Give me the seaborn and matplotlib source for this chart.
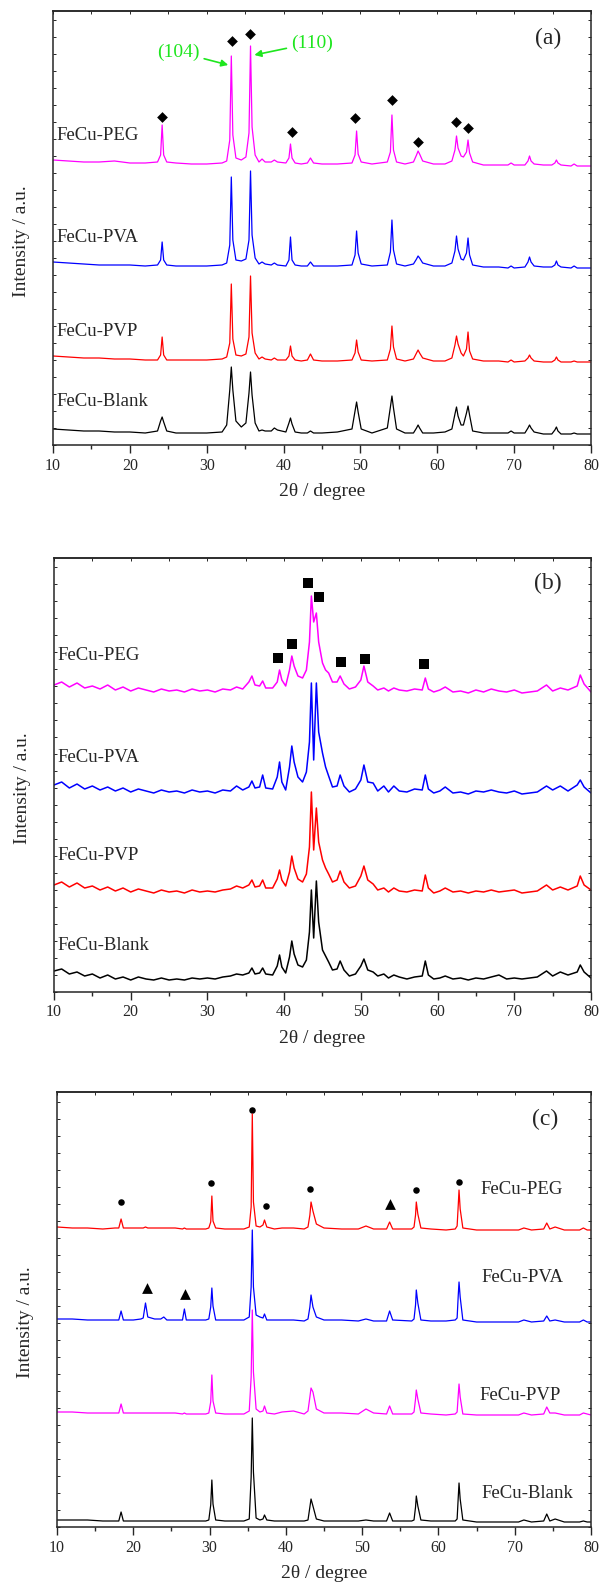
import numpy as np
import pandas as pd
import seaborn as sns
import matplotlib.pyplot as plt
from matplotlib.ticker import MultipleLocator, NullFormatter

sns.set_style('ticks')
plt.rcParams['font.family'] = ['Liberation Serif', 'DejaVu Serif']

# ---------------- panel (a) ----------------
A_X = [10, 12, 14, 16, 18, 20, 22,
       23.6, 24.0, 24.2, 24.4, 24.8,
       26, 28, 30, 32,
       32.6, 33.0, 33.2, 33.4, 33.8,
       34.5,
       35.1, 35.5, 35.7, 35.9, 36.3,
       36.8, 37.2, 37.6,
       38.4, 38.8, 39.2,
       40.3, 40.7, 40.9, 41.1, 41.5,
       42.3,
       43.1, 43.5, 43.9,
       45, 47,
       48.9, 49.3, 49.5, 49.7, 50.1,
       51.5,
       53.5, 53.9, 54.1, 54.3, 54.7,
       55.8,
       56.9, 57.3, 57.5, 57.7, 58.1,
       59.5, 61,
       61.9, 62.3, 62.5, 62.7, 63.1,
       63.4, 63.8, 64.0, 64.2, 64.6,
       66, 68,
       69.2, 69.6, 70.0,
       71.4, 71.8, 72.0, 72.2, 72.6,
       73.8,
       74.9, 75.3, 75.5, 75.7, 76.1,
       77.4, 77.8, 78.2,
       80]
A_PEG = [285, 284, 283, 283, 284, 282, 282,
         283, 290, 320, 290, 283,
         282, 281, 281, 282,
         284, 305, 389, 310, 287,
         285,
         288, 312, 399, 318, 290,
         283, 286, 283,
         283, 285, 283,
         282, 287, 301, 287, 282,
         281,
         282, 287, 282,
         281, 281,
         282, 290, 314, 291, 283,
         281,
         283, 293, 330, 295, 283,
         281,
         283, 290, 294, 291, 284,
         281, 281,
         284, 295, 309, 297, 289,
         288, 293, 305, 292, 283,
         280, 280,
         280, 282, 280,
         280, 284, 289, 284, 281,
         280,
         280, 282, 285, 282, 280,
         279, 281, 279,
         279]
A_PVA = [183, 182, 181, 180, 180, 180, 179,
         180, 185, 203, 185, 180,
         179, 179, 179, 180,
         182, 200, 268, 205, 185,
         184,
         186, 205, 274, 210, 187,
         181, 183, 181,
         180, 182, 180,
         179, 185, 208, 185, 180,
         179,
         179, 183, 179,
         179, 179,
         180, 190, 214, 192, 181,
         179,
         180, 193, 225, 195, 181,
         179,
         181, 186, 189, 187, 182,
         179, 179,
         182, 194, 209, 196, 186,
         185, 192, 207, 190, 180,
         178, 178,
         177, 179, 177,
         178, 183, 188, 183, 179,
         178,
         178, 180, 184, 180, 178,
         177, 179, 177,
         177]
A_PVP = [89, 88, 87, 87, 86, 86, 85,
         85, 90, 108, 90, 85,
         85, 85, 85, 86,
         88, 102, 161, 106, 90,
         89,
         91, 108, 169, 112, 92,
         86, 88, 86,
         85, 87, 85,
         85, 89, 99, 89, 85,
         84,
         85, 91, 85,
         84, 84,
         85, 92, 105, 93, 85,
         84,
         85, 96, 119, 98, 86,
         84,
         86, 92, 95, 92, 87,
         84, 84,
         87, 100, 109, 101, 92,
         89, 96, 113, 94, 86,
         84, 84,
         83, 85, 83,
         84, 87, 90, 87, 84,
         83,
         83, 85, 88, 85, 83,
         83, 84, 83,
         83]
A_BLANK = [16, 15, 14, 14, 13, 13, 12,
           14, 24, 28, 23, 14,
           12, 12, 12, 13,
           20, 55, 78, 55, 24,
           18,
           22, 52, 73, 50, 22,
           14, 15, 14,
           14, 17, 15,
           13, 22, 27, 21, 13,
           12,
           12, 14, 12,
           12, 13,
           16, 34, 43, 33, 16,
           12,
           17, 38, 49, 37, 16,
           12,
           12, 17, 20, 17, 12,
           12, 13,
           16, 31, 38, 29, 20,
           20, 32, 39, 30, 14,
           12, 12,
           12, 14, 12,
           12, 17, 20, 17, 13,
           11,
           11, 15, 18, 14, 11,
           11, 12, 11,
           11]
A_DIAMOND_X = [24.2, 33.25, 35.65, 41.05, 49.35, 54.13, 57.55, 62.42, 63.97]
A_DIAMOND_Y = [328, 404, 411, 313, 327, 345, 303, 323, 317]

# ---------------- panel (b) ----------------
B_X = [10, 11, 12, 13, 14, 15, 16, 17, 18, 19, 20, 21, 22, 23, 24, 25, 26, 27,
       28, 29, 30, 31, 32, 33,
       33.8, 34.6,
       35.4, 35.8, 36.2,
       36.8, 37.2, 37.6,
       38.5, 39.1, 39.4, 39.7, 40.2,
       40.7, 41.0, 41.3, 41.8, 42.4,
       42.9, 43.3, 43.55, 43.85, 44.2, 44.5,
       45.0, 45.4, 45.8, 46.3,
       46.9, 47.3, 47.8, 48.5,
       49.3, 50.0, 50.4, 50.9,
       51.6, 52.2, 53.0, 53.6, 54.3, 55, 56, 57,
       58.0, 58.4, 58.8,
       59.5, 60.3, 61.0, 62, 63, 64, 65, 66, 67, 68, 69, 70, 71, 72, 73,
       74.2, 75, 76, 77, 78.2, 78.6, 79.1, 80]
B_PEG = [307, 310, 305, 309, 304, 306, 303, 307, 302, 305, 301, 304, 302, 300,
         303, 301, 302, 300, 303, 301, 302, 300, 303, 302,
         305, 303,
         310, 316, 307,
         306, 311, 304,
         304, 310, 322, 312, 306,
         322, 336, 326, 316, 314,
         322, 350, 396, 370, 379, 350,
         329, 322, 319, 310,
         310, 316, 308, 303,
         305, 312, 326, 310,
         306, 302, 304, 301, 304, 302, 301, 303,
         302, 314, 303,
         300, 302, 305, 300, 301, 299, 302, 300, 303, 301, 300, 302, 299, 300, 301,
         307, 301, 304, 302, 306, 317, 308, 300]
B_PVA = [207, 210, 204, 208, 203, 206, 202, 205, 201, 204, 200, 203, 201, 199,
         202, 200, 201, 199, 202, 200, 201, 199, 202, 201,
         206, 202,
         205, 211, 204,
         205, 217, 204,
         203, 215, 230, 210, 202,
         225, 246, 230, 215, 210,
         220, 250, 309, 232, 309, 260,
         239, 225, 216, 205,
         206, 217, 206, 200,
         203, 212, 227, 210,
         209, 201, 206, 200, 206, 201, 200, 203,
         202, 217, 203,
         199, 201, 205, 199, 200, 198, 201, 200, 202, 200, 199, 201, 198, 199, 200,
         206, 202, 206, 201, 207, 212, 205, 199]
B_PVP = [107, 110, 105, 109, 104, 106, 102, 105, 101, 104, 100, 103, 101, 99,
         102, 100, 101, 99, 102, 100, 101, 100, 102, 103,
         106, 104,
         107, 112, 105,
         106, 112, 104,
         104, 113, 122, 112, 106,
         120, 136, 124, 113, 110,
         118, 145, 200, 142, 184, 150,
         132, 124, 118, 110,
         112, 121, 110, 104,
         106, 116, 126, 112,
         108, 102, 104, 100, 104, 101, 100, 102,
         101, 117, 104,
         99, 101, 104, 100, 101, 99, 101, 100, 102, 100, 101, 102, 99, 100, 101,
         107, 102, 105, 102, 106, 116, 107, 102]
B_BLANK = [21, 23, 18, 20, 16, 18, 14, 17, 13, 15, 12, 15, 13, 12,
           14, 12, 13, 12, 14, 13, 14, 13, 15, 16,
           18, 17,
           19, 24, 18,
           19, 24, 18,
           17, 26, 37, 25, 19,
           35, 51, 38, 27, 25,
           32, 60, 102, 54, 111, 70,
           42, 36, 30, 22,
           23, 31, 22, 16,
           18, 26, 33, 22,
           20, 16, 18, 14, 17, 15, 13, 15,
           16, 31, 17,
           13, 14, 16, 13, 14, 12, 14, 13, 15, 17, 13, 14, 13, 14, 15,
           21, 16, 20, 17, 20, 27, 20, 14]
B_SQUARE_X = [39.2, 40.97, 43.16, 44.6, 47.45, 50.5, 58.2]
B_SQUARE_Y = [334, 348, 409, 395, 330, 333, 328]

# ---------------- panel (c) ----------------
C_X = [10, 12, 14, 16, 17.6,
       18.1, 18.4, 18.7,
       20, 21.0,
       21.3, 21.6, 21.9,
       22.8,
       23.6, 24.0, 24.4,
       25.5,
       26.45, 26.7, 26.95,
       28, 29.5,
       29.9, 30.15, 30.3, 30.45, 30.8,
       32, 34.5,
       35.2, 35.45, 35.6, 35.75, 36.1,
       36.6, 37.0, 37.2, 37.5,
       38.5, 39.5, 41.0, 42.4,
       42.9, 43.15, 43.3, 43.55, 44.0,
       45, 47.3, 49.5, 50.5, 51.5, 53.2,
       53.6, 54.0,
       56.5,
       56.8, 57.0, 57.1, 57.3, 57.7,
       59, 61, 62.2,
       62.45, 62.6, 62.7, 62.85, 63.2,
       65, 68, 70.5,
       71.2, 72.2,
       73.8, 74.2, 74.6,
       75.3, 76.5,
       78.5, 79.0, 79.5, 80]
C_PEG = [300, 299, 299, 298, 299,
         299, 308, 299,
         299, 299,
         299, 300, 299,
         299,
         299, 299, 299,
         299,
         298, 299, 298,
         298, 298,
         299, 305, 331, 306, 299,
         298, 298,
         300, 320, 413, 325, 301,
         300, 302, 307, 300,
         298, 299, 299, 298,
         300, 312, 325, 316, 303,
         299, 298, 298, 301, 298, 298,
         305, 298,
         298,
         300, 312, 325, 313, 299,
         298, 297, 298,
         301, 322, 337, 318, 299,
         297, 297, 297,
         299, 297,
         298, 304, 298,
         300, 297,
         297, 299, 297, 297]
C_PVA = [208, 208, 207, 207, 207,
         207, 216, 207,
         207, 208,
         209, 224, 210,
         208,
         208, 210, 207,
         207,
         207, 218, 207,
         207, 207,
         208, 220, 239, 221, 207,
         207, 207,
         210, 240, 297, 240, 212,
         210, 209, 213, 207,
         207, 207, 207, 206,
         208, 220, 232, 220, 210,
         207, 207, 206, 208, 206, 206,
         216, 207,
         206,
         208, 222, 237, 224, 207,
         206, 206, 207,
         209, 232, 245, 230, 207,
         205, 205, 205,
         207, 205,
         206, 211, 206,
         207, 205,
         205, 207, 205, 205]
C_PVP = [115, 115, 114, 114, 114,
         114, 123, 114,
         114, 114,
         114, 114, 114,
         114,
         114, 114, 114,
         114,
         113, 114, 113,
         113, 113,
         114, 125, 152, 126, 114,
         113, 113,
         116, 150, 217, 155, 118,
         115, 116, 121, 114,
         113, 115, 116, 113,
         116, 130, 139, 135, 118,
         114, 114, 113, 118, 114, 113,
         121, 113,
         113,
         115, 128, 137, 128, 114,
         113, 112, 113,
         115, 132, 143, 130, 113,
         112, 112, 112,
         114, 112,
         113, 120, 114,
         114, 112,
         112, 114, 113, 112]
C_BLANK = [7, 7, 7, 6, 6,
           6, 15, 6,
           6, 6,
           6, 6, 6,
           6,
           6, 6, 6,
           6,
           6, 6, 6,
           6, 6,
           7, 22, 47, 23, 7,
           6, 6,
           8, 50, 109, 55, 9,
           7, 8, 12, 7,
           6, 6, 6, 6,
           7, 20, 28, 21, 8,
           6, 6, 6, 7, 6, 6,
           14, 6,
           6,
           7, 20, 31, 21, 7,
           6, 6, 6,
           8, 30, 44, 28, 7,
           5, 5, 5,
           7, 5,
           6, 13, 6,
           8, 5,
           5, 6, 5, 5]
C_CIRCLE_X = [18.45, 30.25, 35.6, 37.4, 43.2, 57.1, 62.7]
C_CIRCLE_Y = [325, 344, 417, 321, 338, 337, 345]
C_TRI_X = [21.85, 26.8, 53.6]
C_TRI_Y = [239, 233, 323]

SAMPLES = ['FeCu-PEG', 'FeCu-PVA', 'FeCu-PVP', 'FeCu-Blank']
MAGENTA, BLUE, RED, BLACK = '#FF00FF', '#0000FF', '#FF0000', '#000000'
GREEN = '#1EE61E'

W, H = 599, 1584
fig = plt.figure(figsize=(W / 100, H / 100), dpi=100)


def make_axes(left, right, top, bottom):
    ax = fig.add_axes([left / W, 1 - bottom / H, (right - left) / W, (bottom - top) / H])
    ax.set_xlim(10, 80)
    ax.set_ylim(0, bottom - top)
    ax.xaxis.set_major_locator(MultipleLocator(10))
    ax.xaxis.set_minor_locator(MultipleLocator(5))
    ax.yaxis.set_major_locator(MultipleLocator(17))
    ax.yaxis.set_major_formatter(NullFormatter())
    ax.tick_params(axis='x', which='major', direction='out', length=6, width=1,
                   labelsize=11.5, pad=3)
    ax.tick_params(axis='x', which='minor', direction='out', length=3, width=1)
    ax.tick_params(axis='y', which='major', direction='in', length=2.5, width=0.7,
                   left=True, right=True)
    top_ax = ax.secondary_xaxis('top')
    top_ax.xaxis.set_major_locator(MultipleLocator(5))
    top_ax.tick_params(direction='in', length=2, width=0.7, labeltop=False)
    for sp in ax.spines.values():
        sp.set_linewidth(1.1)
        sp.set_visible(True)
    top_ax.spines['top'].set_linewidth(1.1)
    return ax


def draw_traces(ax, x, series, colors, lw=0.9):
    for y, c in zip(series, colors):
        df = pd.DataFrame({'x': x, 'y': y})
        sns.lineplot(data=df, x='x', y='y', color=c, lw=lw, ax=ax,
                     estimator=None, sort=False)
    ax.set_xlabel('2θ / degree', fontsize=14)
    ax.set_ylabel('Intensity / a.u.', fontsize=14)


# panel (a)
ax_a = make_axes(53, 591, 11, 445)
draw_traces(ax_a, A_X, [A_PEG, A_PVA, A_PVP, A_BLANK], [MAGENTA, BLUE, RED, BLACK])
sns.scatterplot(x=A_DIAMOND_X, y=A_DIAMOND_Y, marker='D', s=30, color='black',
                edgecolor='black', linewidth=0, ax=ax_a)
for name, yy in zip(SAMPLES, [309, 207, 113, 44]):
    ax_a.text(10.45, yy, name, fontsize=13.5, ha='left', va='center')
ax_a.text(74.4, 407, '(a)', fontsize=17, ha='center', va='center')
ax_a.annotate('(104)', xy=(32.8, 380), xytext=(26.3, 393), fontsize=14, color=GREEN,
              ha='center', va='center',
              arrowprops=dict(arrowstyle='-|>', color=GREEN, lw=1.2,
                              shrinkA=1, shrinkB=0, mutation_scale=10))
ax_a.annotate('(110)', xy=(36.2, 390), xytext=(43.7, 402), fontsize=14, color=GREEN,
              ha='center', va='center',
              arrowprops=dict(arrowstyle='-|>', color=GREEN, lw=1.2,
                              shrinkA=1, shrinkB=0, mutation_scale=10))

# panel (b)
ax_b = make_axes(54, 591, 558, 992)
draw_traces(ax_b, B_X, [B_PEG, B_PVA, B_PVP, B_BLANK], [MAGENTA, BLUE, RED, BLACK],
            lw=1.1)
sns.scatterplot(x=B_SQUARE_X, y=B_SQUARE_Y, marker='s', s=55, color='black',
                edgecolor='black', linewidth=0, ax=ax_b)
for name, yy in zip(SAMPLES, [337, 235, 137, 46]):
    ax_b.text(10.5, yy, name, fontsize=13.5, ha='left', va='center')
ax_b.text(74.4, 409, '(b)', fontsize=17, ha='center', va='center')

# panel (c)
ax_c = make_axes(57, 591, 1092, 1527)
draw_traces(ax_c, C_X, [C_PEG, C_PVA, C_PVP, C_BLANK], [RED, BLUE, MAGENTA, BLACK])
sns.scatterplot(x=C_CIRCLE_X, y=C_CIRCLE_Y, marker='o', s=22, color='black',
                edgecolor='black', linewidth=0, ax=ax_c)
sns.scatterplot(x=C_TRI_X, y=C_TRI_Y, marker='^', s=60, color='black',
                edgecolor='black', linewidth=0, ax=ax_c)
for name, xx, yy in zip(SAMPLES, [65.5, 65.7, 65.35, 65.7], [337, 249, 132, 34]):
    ax_c.text(xx, yy, name, fontsize=13.5, ha='left', va='center')
ax_c.text(74.0, 408, '(c)', fontsize=17, ha='center', va='center')

for ax, (l, r, t, b) in [(ax_a, (53, 591, 11, 445)), (ax_b, (54, 591, 558, 992)),
                         (ax_c, (57, 591, 1092, 1527))]:
    ax.xaxis.set_label_coords(0.5, -38 / (b - t))
    ax.yaxis.set_label_coords(-23 / (r - l), 0.47)

fig.savefig('out.png', dpi=100)
